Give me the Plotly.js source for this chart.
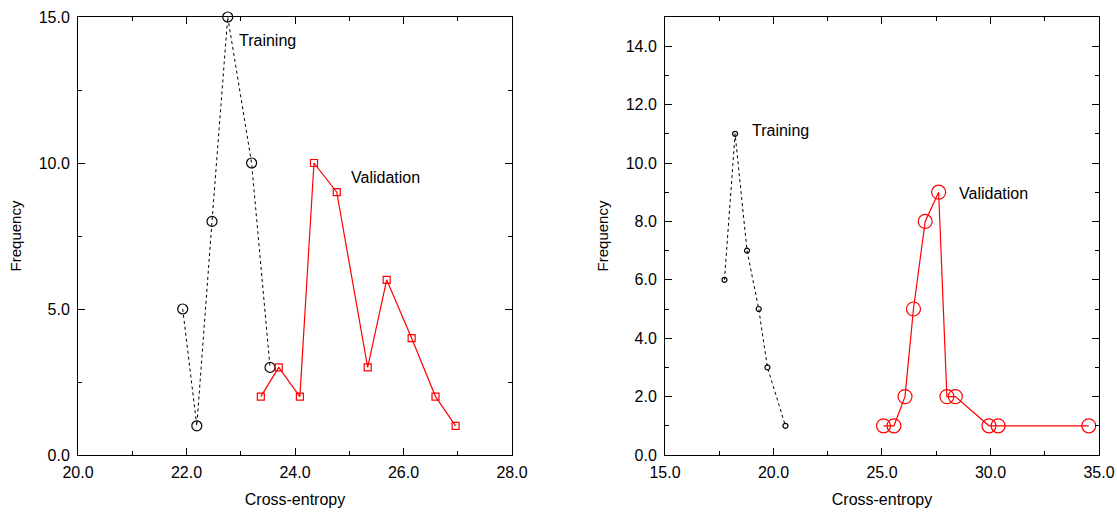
<!DOCTYPE html>
<html>
<head>
<meta charset="utf-8">
<script src="https://cdn.plot.ly/plotly-3.0.1.min.js"></script>
<style>html,body{margin:0;padding:0;background:#fff;}#chart{width:1117px;height:513px;}</style>
</head>
<body>
<div id="chart"></div>
<script>
// Left panel
const trainX1 = [21.93, 22.19, 22.47, 22.76, 23.20, 23.54];
const trainY1 = [5, 1, 8, 15, 10, 3];
const valX1 = [23.37, 23.70, 24.09, 24.35, 24.77, 25.34, 25.69, 26.15, 26.59, 26.96];
const valY1 = [2, 3, 2, 10, 9, 3, 6, 4, 2, 1];
// Right panel
const trainX2 = [17.74, 18.23, 18.78, 19.32, 19.72, 20.55];
const trainY2 = [6, 11, 7, 5, 3, 1];
const valX2 = [25.07, 25.55, 26.06, 26.45, 26.99, 27.61, 27.99, 28.38, 29.93, 30.35, 34.53];
const valY2 = [1, 1, 2, 5, 8, 9, 2, 2, 1, 1, 1];
// Labels
const seriesNames = ["Training", "Validation"];
const xTitle = "Cross-entropy";
const yTitle = "Frequency";

const FONT = "Liberation Sans, Arial, Helvetica, sans-serif";

const traces = [
  {x: trainX1, y: trainY1, xaxis: 'x', yaxis: 'y', name: seriesNames[0], mode: 'lines+markers', cliponaxis: false,
   line: {color: 'black', width: 1, dash: 'dot'},
   marker: {symbol: 'circle-open', size: 10, color: 'black', line: {width: 1.2, color: 'black'}}},
  {x: valX1, y: valY1, xaxis: 'x', yaxis: 'y', name: seriesNames[1], mode: 'lines+markers', cliponaxis: false,
   line: {color: 'red', width: 1.2},
   marker: {symbol: 'square-open', size: 7, color: 'red', line: {width: 1.2, color: 'red'}}},
  {x: trainX2, y: trainY2, xaxis: 'x2', yaxis: 'y2', name: seriesNames[0], mode: 'lines+markers', cliponaxis: false,
   line: {color: 'black', width: 1, dash: 'dot'},
   marker: {symbol: 'circle-open', size: 5, color: 'black', line: {width: 1.2, color: 'black'}}},
  {x: valX2, y: valY2, xaxis: 'x2', yaxis: 'y2', name: seriesNames[1], mode: 'lines+markers', cliponaxis: false,
   line: {color: 'red', width: 1.2},
   marker: {symbol: 'circle-open', size: 14, color: 'red', line: {width: 1.2, color: 'red'}}}
];

function xax(domain, range, dtick, minorDtick, anchor) {
  return {
    domain: domain, range: range, anchor: anchor, tick0: range[0], dtick: dtick, tickformat: '.1f',
    ticks: 'inside', ticklen: 7, tickwidth: 1, tickcolor: 'black', ticklabeloverflow: 'allow',
    ticklabelstandoff: 3,
    minor: {dtick: minorDtick, tick0: range[0], ticks: 'inside', ticklen: 4, tickwidth: 1, tickcolor: 'black'},
    showline: true, linecolor: 'black', linewidth: 1, mirror: 'allticks',
    showgrid: false, zeroline: false,
    tickfont: {family: FONT, size: 16, color: 'black'},
    title: {text: xTitle, font: {family: FONT, size: 16, color: 'black'}, standoff: 13}
  };
}
function yax(domain, range, dtick, minorDtick, anchor) {
  return {
    domain: domain, range: range, anchor: anchor, tick0: 0, dtick: dtick, tickformat: '.1f',
    ticks: 'inside', ticklen: 7, tickwidth: 1, tickcolor: 'black', ticklabeloverflow: 'allow',
    ticklabelstandoff: 4,
    minor: {dtick: minorDtick, tick0: 0, ticks: 'inside', ticklen: 4, tickwidth: 1, tickcolor: 'black'},
    showline: true, linecolor: 'black', linewidth: 1, mirror: 'allticks',
    showgrid: false, zeroline: false,
    tickfont: {family: FONT, size: 16, color: 'black'},
    title: {text: yTitle, font: {family: FONT, size: 15, color: 'black'}, standoff: 13}
  };
}

const layout = {
  width: 1117, height: 513,
  margin: {l: 0, r: 0, t: 0, b: 0},
  paper_bgcolor: 'white', plot_bgcolor: 'white',
  showlegend: false,
  xaxis: xax([0.06983, 0.45837], [20, 28], 2, 1, 'y'),
  yaxis: yax([0.11306, 0.96686], [0, 15], 5, 2.5, 'x'),
  xaxis2: xax([0.59535, 0.98388], [15, 35], 5, 2.5, 'y2'),
  yaxis2: yax([0.11306, 0.96686], [0, 15], 2, 1, 'x2'),
  annotations: [
    {xref: 'x', yref: 'y', x: 22.93, y: 14.2, text: seriesNames[0], showarrow: false, xanchor: 'left', yanchor: 'middle', font: {family: FONT, size: 16, color: 'black'}},
    {xref: 'x', yref: 'y', x: 24.99, y: 9.5, text: seriesNames[1], showarrow: false, xanchor: 'left', yanchor: 'middle', font: {family: FONT, size: 16, color: 'black'}},
    {xref: 'x2', yref: 'y2', x: 18.91, y: 11.13, text: seriesNames[0], showarrow: false, xanchor: 'left', yanchor: 'middle', font: {family: FONT, size: 16, color: 'black'}},
    {xref: 'x2', yref: 'y2', x: 28.45, y: 8.95, text: seriesNames[1], showarrow: false, xanchor: 'left', yanchor: 'middle', font: {family: FONT, size: 16, color: 'black'}}
  ]
};

Plotly.newPlot('chart', traces, layout, {displayModeBar: false, staticPlot: true});
</script>
</body>
</html>
